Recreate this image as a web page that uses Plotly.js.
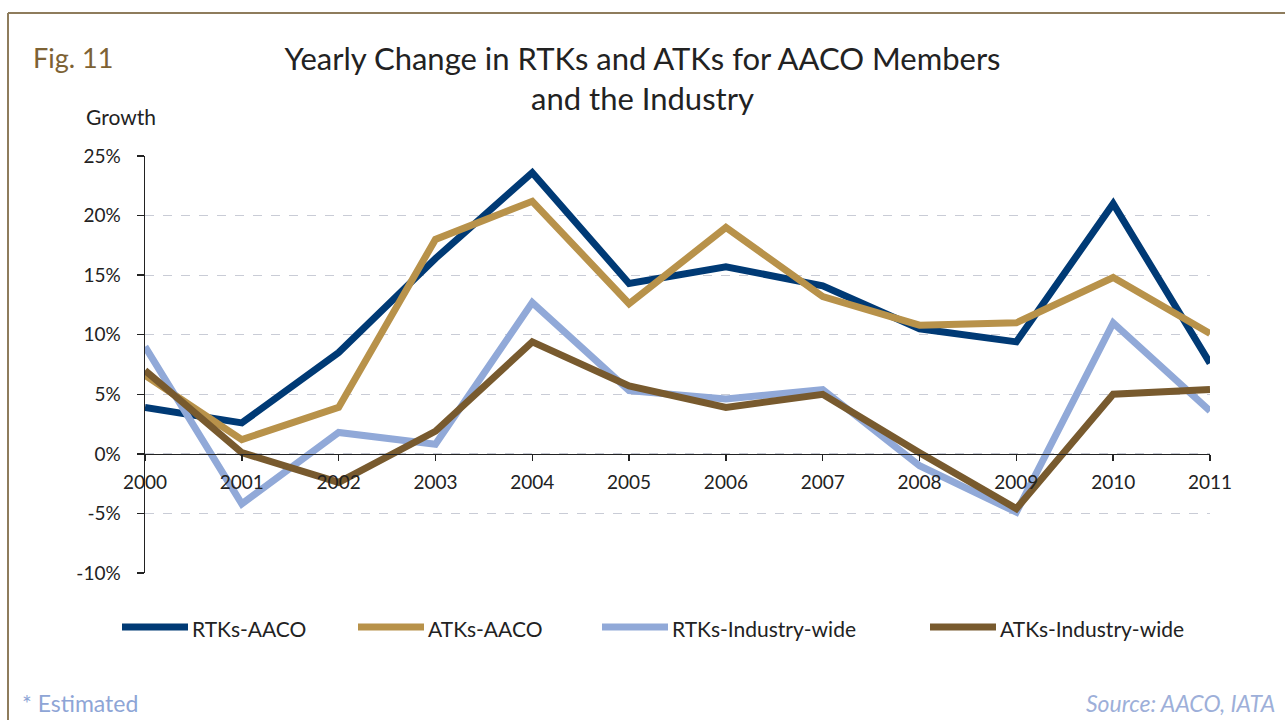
<!DOCTYPE html>
<html>
<head>
<meta charset="utf-8">
<script src="https://cdn.plot.ly/plotly-3.0.1.min.js"></script>
<style>
  html, body { margin: 0; padding: 0; background: #fff; }
  #chart { width: 1285px; height: 720px; }
</style>
</head>
<body>
<div id="chart"></div>
<script>
// data (yearly growth, %)
const years = ['2000','2001','2002','2003','2004','2005','2006','2007','2008','2009','2010','2011'];
const rtksAaco = [3.9, 2.6, 8.5, 16.4, 23.6, 14.3, 15.7, 14.1, 10.5, 9.4, 21.0, 7.6];
const atksAaco = [6.6, 1.2, 3.9, 18.0, 21.2, 12.6, 19.0, 13.2, 10.8, 11.0, 14.8, 10.1];
const rtksIndustry = [9.0, -4.2, 1.8, 0.8, 12.7, 5.3, 4.6, 5.4, -1.0, -4.9, 11.0, 3.6];
const atksIndustry = [7.0, 0.1, -2.4, 1.9, 9.4, 5.7, 3.9, 5.0, 0.1, -4.6, 5.0, 5.4];

const yTickVals = [-10, -5, 0, 5, 10, 15, 20, 25];
const yTickText = ['-10%', '-5%', '0%', '5%', '10%', '15%', '20%', '25%'];

const seriesNames = ['RTKs-AACO', 'ATKs-AACO', 'RTKs-Industry-wide', 'ATKs-Industry-wide'];
const seriesValues = [rtksAaco, atksAaco, rtksIndustry, atksIndustry];
const seriesColors = ['#003a75', '#b8924a', '#91a9d8', '#785a2e'];

const FONT = 'Lato, "Noto Sans", sans-serif';

// plot box in pixels (left, right, top, bottom)
const L = 145, R = 1210, T = 156, B = 573;
const px = x => (x - L) / (R - L);
const py = y => (B - y) / (B - T);

const traces = seriesValues.map((vals, i) => ({
    x: years,
    y: vals,
    type: 'scatter',
    mode: 'lines',
    name: seriesNames[i],
    line: {color: seriesColors[i], width: 7},
    showlegend: false
}));

// hand-made legend (long swatches like the original)
const legendStart = [122, 358, 602, 930];
const legendY = 627;
const shapes = [];
const annotations = [];
seriesNames.forEach((name, i) => {
    shapes.push({
        type: 'line', xref: 'paper', yref: 'paper',
        x0: px(legendStart[i]), x1: px(legendStart[i] + 66),
        y0: py(legendY), y1: py(legendY),
        line: {color: seriesColors[i], width: 7}
    });
    annotations.push({
        text: name, xref: 'paper', yref: 'paper',
        x: px(legendStart[i] + 68), y: py(legendY + 1),
        xanchor: 'left', yanchor: 'middle', showarrow: false,
        font: {family: FONT, size: 21, color: '#222'}
    });
});

// frame lines
shapes.push({type: 'line', xref: 'paper', yref: 'paper',
    x0: px(8), x1: px(1285), y0: py(13), y1: py(13),
    line: {color: '#8e7c5c', width: 2}});
shapes.push({type: 'line', xref: 'paper', yref: 'paper',
    x0: px(8), x1: px(8), y0: py(13), y1: py(720),
    line: {color: '#8e7c5c', width: 2}});

annotations.push(
    {text: 'Fig. 11', xref: 'paper', yref: 'paper', x: px(31), y: py(58),
     xanchor: 'left', yanchor: 'middle', showarrow: false,
     font: {family: FONT, size: 27, color: '#7d6234'}},
    {text: 'Growth', xref: 'paper', yref: 'paper', x: px(84), y: py(117),
     xanchor: 'left', yanchor: 'middle', showarrow: false,
     font: {family: FONT, size: 21, color: '#222'}},
    {text: '* Estimated', xref: 'paper', yref: 'paper', x: px(20), y: py(703),
     xanchor: 'left', yanchor: 'middle', showarrow: false,
     font: {family: FONT, size: 23, color: '#8ea5d6'}},
    {text: '<i>Source: AACO, IATA</i>', xref: 'paper', yref: 'paper', x: px(1277), y: py(703),
     xanchor: 'right', yanchor: 'middle', showarrow: false,
     font: {family: FONT, size: 23, color: '#9dafd9'}}
);

const layout = {
    width: 1285,
    height: 720,
    margin: {l: L, r: 1285 - R, t: T, b: 720 - B, pad: 0},
    paper_bgcolor: '#fff',
    plot_bgcolor: '#fff',
    font: {family: FONT, size: 18, color: '#222'},
    title: {
        text: 'Yearly Change in RTKs and ATKs for AACO Members<br>and the Industry',
        x: 0.5, xref: 'container', xanchor: 'center',
        y: 1 - 70 / 720, yref: 'container', yanchor: 'top',
        font: {family: FONT, size: 31, color: '#222'}
    },
    showlegend: false,
    xaxis: {
        type: 'category',
        range: [0, years.length - 1],
        anchor: 'free',
        position: 10 / 35,
        showgrid: false,
        showline: true, linecolor: '#222', linewidth: 1.5,
        ticks: 'outside', ticklen: 6, tickcolor: '#222', tickwidth: 1.5,
        ticklabelstandoff: 5,
        tickfont: {family: FONT, size: 19, color: '#222'},
        fixedrange: true
    },
    yaxis: {
        range: [-10, 25],
        tickmode: 'array',
        tickvals: yTickVals,
        ticktext: yTickText,
        showgrid: true, gridcolor: '#c9ccd6', gridwidth: 1, griddash: 'dash',
        zeroline: false,
        showline: true, linecolor: '#222', linewidth: 1.5,
        ticks: 'outside', ticklen: 7, tickcolor: '#222', tickwidth: 1.5,
        ticklabelstandoff: 12,
        tickfont: {family: FONT, size: 19, color: '#222'},
        fixedrange: true
    },
    shapes: shapes,
    annotations: annotations
};

Plotly.newPlot('chart', traces, layout, {displayModeBar: false, staticPlot: true});
</script>
</body>
</html>
